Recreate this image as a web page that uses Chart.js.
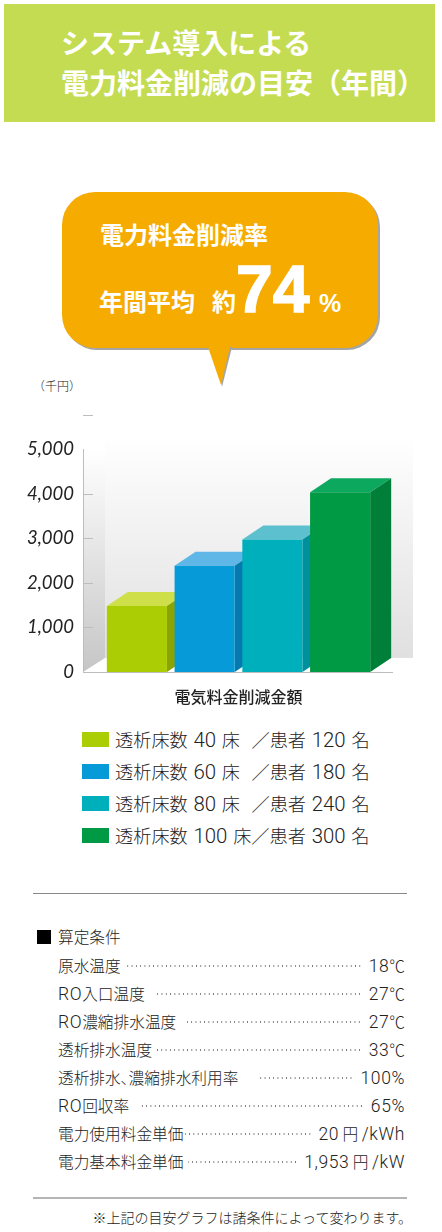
<!DOCTYPE html>
<html lang="ja">
<head>
<meta charset="utf-8">
<title>電力料金削減の目安</title>
<script src="https://cdn.jsdelivr.net/npm/chart.js@4/dist/chart.umd.min.js"></script>
<style>
  html, body { margin: 0; padding: 0; background: #fff; }
  body { position: relative; width: 442px; height: 1232px; overflow: hidden; color: #222;
    font-family: "Noto Sans CJK JP", "Liberation Sans", sans-serif; }
  .abs { position: absolute; white-space: nowrap; }
  #header { left: 4px; top: 4px; width: 431px; height: 118px; background: #c4dc52; }
  .title { left: 61px; color: #fff; font-size: 28px; font-weight: 700; line-height: 40px; }
  #bubble { left: 62px; top: 192px; width: 316px; height: 156px; background: #f6ab00; border-radius: 33px;
    box-shadow: 2px 2px 0 #a5a5a5; }
  #tail { left: 205px; top: 347px; width: 30px; height: 42px; }
  .bt { color: #fff; font-weight: 700; }
  #chartBox { left: 0; top: 400px; width: 442px; height: 312px; }
  .legend-box { left: 82px; width: 27px; height: 15px; }
  .legend-text { left: 115px; font-size: 18.2px; line-height: 24px; font-weight: 300; white-space: pre; word-spacing: 1.7px; }
  .num { font-family: Roboto, "Liberation Sans", sans-serif; font-weight: 300; }
  .legend-text .num { font-size: 20.4px; }
  .rule { left: 33px; width: 374px; height: 1px; background: #888; }
  .cond { left: 58px; right: 37px; display: flex; font-size: 15.7px; line-height: 20px; font-weight: 300;
    font-feature-settings: "palt"; }
  .cond .num { font-size: 17.5px; letter-spacing: 0.6px; }
  .cond .dots { flex: 1; margin-right: 7px;
    background-image: radial-gradient(circle, #777 0.6px, transparent 1px);
    background-size: 4.3px 4px; background-repeat: repeat-x; background-position: right center; }
</style>
</head>
<body>
<div id="header" class="abs"></div>
<div class="abs title" style="top:22px">システム導入による</div>
<div class="abs title" style="top:62px">電力料金削減の目安（年間）</div>

<div id="bubble" class="abs"></div>
<svg id="tail" class="abs" viewBox="0 0 30 42"><polygon points="9,0 27,0 17,40" fill="#a5a5a5"/><polygon points="3,0 25,0 16,38" fill="#f6ab00"/></svg>
<div class="abs bt" style="left:100px;top:217px;font-size:24px;line-height:34px">電力料金削減率</div>
<div class="abs bt" style="left:99px;top:284px;font-size:24px;line-height:34px">年間平均</div>
<div class="abs bt" style="left:212px;top:284px;font-size:24px;line-height:34px">約</div>
<div class="abs bt" style="left:236px;top:247px;font-size:66px;line-height:84px;font-family:'Liberation Sans';-webkit-text-stroke:1.5px #fff;">74</div>
<div class="abs bt" style="left:319px;top:287px;font-size:25px;line-height:32px;font-family:'Liberation Sans';">%</div>

<div class="abs" style="left:33px;top:378px;font-size:12px;line-height:16px;font-weight:300">（千円）</div>

<div id="chartBox" class="abs"><canvas id="chart" width="442" height="312"></canvas></div>
<div id="legend"></div>

<div class="abs rule" style="top:893px"></div>
<div class="abs" style="left:37px;top:930px;width:14px;height:14px;background:#000"></div>
<div class="abs" style="left:58px;top:927px;font-size:15.7px;line-height:20px;font-weight:300">算定条件</div>
<div id="conditions"></div>
<div class="abs rule" style="top:1197px;background:#b5b5b5;height:2px"></div>
<div class="abs" style="right:30px;top:1207px;font-size:14px;line-height:20px;font-weight:300">※上記の目安グラフは諸条件によって変わります。</div>

<script>
const categories = ["透析床数 40 床  ／患者 120 名", "透析床数 60 床  ／患者 180 名", "透析床数 80 床  ／患者 240 名", "透析床数 100 床／患者 300 名"];
const savings = [1480, 2380, 2970, 4030];
const frontColors = ["#abcd03", "#069bd8", "#00afbc", "#009a44"];
const topColors = ["#cfdf4a", "#5eb7e6", "#5cc0cf", "#0ba85e"];
const sideColors = ["#8aa402", "#0679ae", "#008f9c", "#007f38"];
const yTicks = [0, 1000, 2000, 3000, 4000, 5000];
const wallTicks = [1000, 2000, 3000, 4000, 5760];
const conditionNames = ["原水温度", "RO入口温度", "RO濃縮排水温度", "透析排水温度", "透析排水、濃縮排水利用率", "RO回収率", "電力使用料金単価", "電力基本料金単価"];
const conditionValues = ["18℃", "27℃", "27℃", "33℃", "100%", "65%", "20 円 /kWh", "1,953 円 /kW"];
const dotGaps = [6, 11, 11, 5, 19, 11, 1, 4];

const wrapNums = (s) => s.replace(/[A-Za-z0-9,%/]+/g, '<span class="num">$&</span>');

// 凡例
categories.forEach((name, i) => {
  const y = 732 + i * 32;
  document.getElementById("legend").insertAdjacentHTML("beforeend",
    `<div class="abs legend-box" style="top:${y}px;background:${frontColors[i]}"></div>` +
    `<div class="abs legend-text" style="top:${y - 5}px">${wrapNums(name)}</div>`);
});

// 算定条件
conditionNames.forEach((name, i) => {
  const y = 956 + i * 28;
  document.getElementById("conditions").insertAdjacentHTML("beforeend",
    `<div class="abs cond" style="top:${y}px"><span>${wrapNums(name)}</span>` +
    `<span class="dots" style="margin-left:${dotGaps[i]}px"></span><span>${wrapNums(conditionValues[i])}</span></div>`);
});

const DEPTH_X = 21, DEPTH_Y = 14;

// 奥の壁と床、棒の側面と上面を描く
const box3d = {
  id: "box3d",
  beforeDatasetsDraw(chart) {
    const { ctx, scales: { x, y } } = chart;
    const left = x.left - 20, bottom = y.bottom, top = y.top;
    const backLeft = left + DEPTH_X + 1, backRight = x.right + 39;
    ctx.save();
    let g = ctx.createLinearGradient(0, top, 0, bottom);
    g.addColorStop(0, "#ffffff");
    g.addColorStop(1, "#c6c6c6");
    ctx.fillStyle = g;
    ctx.beginPath();
    ctx.moveTo(left, top);
    ctx.lineTo(backLeft, top - DEPTH_Y);
    ctx.lineTo(backLeft, bottom - DEPTH_Y);
    ctx.lineTo(left, bottom);
    ctx.fill();
    g = ctx.createLinearGradient(0, top - DEPTH_Y, 0, bottom - DEPTH_Y);
    g.addColorStop(0, "#ffffff");
    g.addColorStop(1, "#e0e0e0");
    ctx.fillStyle = g;
    ctx.fillRect(backLeft, top - DEPTH_Y, backRight - backLeft, bottom - top);
    ctx.strokeStyle = "#bdbdbd";
    ctx.lineWidth = 1;
    wallTicks.forEach((v) => {
      const py = Math.round(y.getPixelForValue(v)) + 0.5;
      ctx.beginPath();
      ctx.moveTo(left, py);
      ctx.lineTo(left + 10, py);
      ctx.stroke();
    });
    ctx.beginPath();
    ctx.moveTo(left + 0.5, top);
    ctx.lineTo(left + 0.5, bottom);
    ctx.stroke();
    chart.getDatasetMeta(0).data.forEach((bar, i) => {
      const l = bar.x - bar.width / 2, r = bar.x + bar.width / 2;
      ctx.fillStyle = topColors[i];
      ctx.beginPath();
      ctx.moveTo(l, bar.y);
      ctx.lineTo(l + DEPTH_X, bar.y - DEPTH_Y);
      ctx.lineTo(r + DEPTH_X, bar.y - DEPTH_Y);
      ctx.lineTo(r, bar.y);
      ctx.fill();
      ctx.fillStyle = sideColors[i];
      ctx.beginPath();
      ctx.moveTo(r, bar.y);
      ctx.lineTo(r + DEPTH_X, bar.y - DEPTH_Y);
      ctx.lineTo(r + DEPTH_X, bar.base - DEPTH_Y);
      ctx.lineTo(r, bar.base);
      ctx.fill();
    });
    ctx.restore();
  },
  afterDatasetsDraw(chart) {
    const { ctx, scales: { x, y } } = chart;
    ctx.save();
    ctx.strokeStyle = "#bdbdbd";
    ctx.beginPath();
    ctx.moveTo(x.left - 20, Math.round(y.bottom) + 0.5);
    ctx.lineTo(x.right + 19, Math.round(y.bottom) + 0.5);
    ctx.stroke();
    ctx.restore();
  }
};

new Chart(document.getElementById("chart"), {
  type: "bar",
  data: {
    labels: categories,
    datasets: [{ data: savings, backgroundColor: frontColors, borderWidth: 0, barPercentage: 1, categoryPercentage: 0.887 }]
  },
  options: {
    responsive: false,
    animation: false,
    layout: { padding: { left: 0, right: 68, top: 49, bottom: 0 } },
    plugins: { legend: { display: false }, tooltip: { enabled: false } },
    scales: {
      x: {
        grid: { display: false, drawTicks: false },
        border: { display: false },
        ticks: { display: false },
        title: {
          display: true,
          text: "電気料金削減金額",
          color: "#222",
          font: { family: "'Noto Sans CJK JP'", size: 16, weight: "500" },
          padding: { top: 15, bottom: 2 }
        }
      },
      y: {
        min: 0,
        max: 5000,
        afterFit(scale) { scale.width = 103; },
        grid: { display: false, drawTicks: false },
        border: { display: false },
        afterBuildTicks(scale) { scale.ticks = yTicks.map((value) => ({ value })); },
        ticks: {
          color: "#222",
          padding: 29,
          font: { family: "Lato", size: 18.5, style: "italic" },
          callback: (v) => v.toLocaleString("en-US")
        }
      }
    }
  },
  plugins: [box3d]
});
</script>
</body>
</html>
